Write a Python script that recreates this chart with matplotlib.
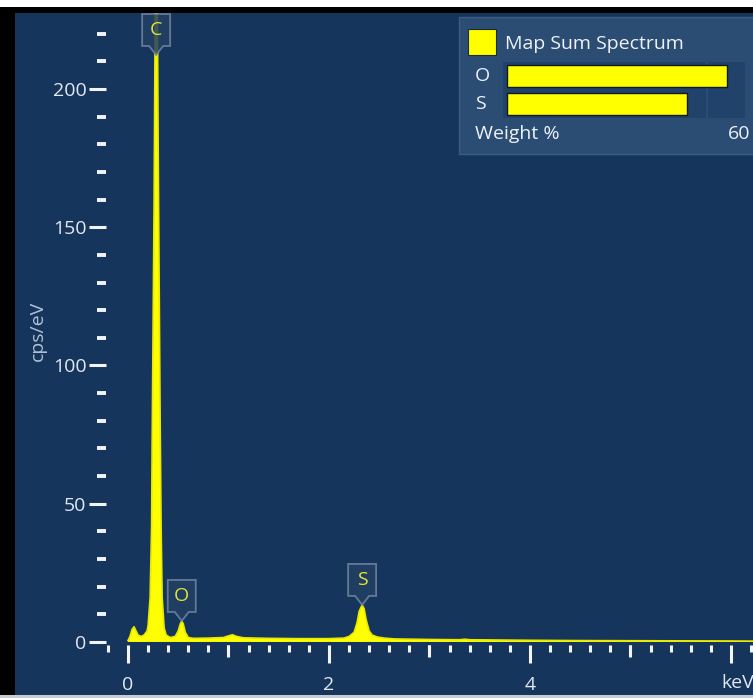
import matplotlib
matplotlib.use('Agg')
import matplotlib.pyplot as plt
from matplotlib.patches import Rectangle, Polygon
from matplotlib.ticker import MultipleLocator, FixedLocator

# spectrum (keV, cps/eV)
energy = [0.00, 0.02, 0.04, 0.06, 0.08, 0.10, 0.13, 0.16, 0.19, 0.20, 0.22,
          0.235, 0.24, 0.25, 0.26, 0.27, 0.28, 0.29, 0.30, 0.31, 0.32, 0.33,
          0.34, 0.36, 0.38, 0.42, 0.47, 0.50, 0.52, 0.535, 0.55, 0.57, 0.60,
          0.65, 0.80, 0.95, 1.00, 1.04, 1.08, 1.15, 1.40, 1.70, 2.00, 2.15,
          2.20, 2.25, 2.28, 2.30, 2.33, 2.35, 2.37, 2.40, 2.43, 2.48, 2.55,
          2.65, 3.00, 3.30, 3.35, 3.40, 4.00, 4.50, 5.00, 5.50, 6.00, 6.25]
counts = [0.5, 2.0, 4.5, 5.5, 4.0, 2.5, 2.0, 2.5, 4.0, 6.0, 16.0,
          42.0, 70.0, 115.0, 160.0, 225.0, 290.0, 245.0, 180.0, 130.0, 80.0, 40.0,
          16.0, 5.0, 2.5, 1.6, 2.0, 4.0, 6.5, 7.6, 6.5, 3.5, 1.6,
          1.3, 1.4, 1.6, 2.2, 2.6, 2.0, 1.5, 1.3, 1.2, 1.2, 1.4,
          2.0, 3.5, 7.0, 11.0, 13.4, 12.0, 8.0, 4.0, 2.5, 1.8, 1.4,
          1.1, 0.9, 0.8, 1.0, 0.8, 0.6, 0.5, 0.45, 0.4, 0.35, 0.3]

peak_names = ['C', 'O', 'S']
peak_kev = [0.28, 0.535, 2.33]

# legend bars
elements = ['O', 'S']
weight_pct = [55, 45]

W, H = 753, 698
BG = '#16355d'
FONT = 'Open Sans'

fig = plt.figure(figsize=(W / 100, H / 100), dpi=100)
fig.patch.set_facecolor('white')


def frac(x, y):
    # pixel (top-left origin) -> figure fraction
    return x / W, 1 - y / H


# black frame and blue panel
fig.patches.append(Rectangle(frac(0, 695), 1, 688 / H, transform=fig.transFigure,
                             facecolor='black', edgecolor='none', zorder=-10))
fig.patches.append(Rectangle(frac(15, 695), 1, 682 / H, transform=fig.transFigure,
                             facecolor=BG, edgecolor='none', zorder=-9))
fig.patches.append(Rectangle(frac(0, 698), 1, 3 / H, transform=fig.transFigure,
                             facecolor='#c8ccd0', edgecolor='none', zorder=-8))

x0, y0 = frac(106, 645)
ax = fig.add_axes([x0, y0, 1 - x0, (645 - 13) / H])
ax.set_facecolor('none')
ax.set_xlim(-0.219, 6.22)
ax.set_ylim(-1.1, 227.5)
for s in ax.spines.values():
    s.set_visible(False)

ax.fill_between(energy, counts, 0, color='#ffff00', lw=0, zorder=3)
ax.plot(energy, counts, color='#e8e800', lw=1.2, zorder=4)

tick_col = '#f2f4f7'
lab_col = '#e2e8ef'
ax.yaxis.set_major_locator(FixedLocator([0, 50, 100, 150, 200]))
ax.yaxis.set_minor_locator(MultipleLocator(10))
ax.xaxis.set_major_locator(FixedLocator([0, 2, 4, 6]))
ax.xaxis.set_minor_locator(MultipleLocator(0.2))
ax.set_xticklabels(['0', '2', '4', ''])
ax.tick_params(axis='y', which='major', length=12, width=2.2, color=tick_col,
               pad=2, labelsize=14, labelcolor=lab_col)
ax.tick_params(axis='y', which='minor', length=6.5, width=2.8, color=tick_col)
ax.tick_params(axis='x', which='major', length=13, width=2.2, color=tick_col,
               pad=9, labelsize=14, labelcolor=lab_col)
ax.tick_params(axis='x', which='minor', length=5, width=2.2, color=tick_col)
for lab in ax.get_xticklabels() + ax.get_yticklabels():
    lab.set_family(FONT)

# medium ticks at odd keV
sec = ax.secondary_xaxis('bottom')
sec.set_xticks([1, 3, 5])
sec.set_xticklabels([])
sec.tick_params(length=8.5, width=2.2, color=tick_col)
sec.spines['bottom'].set_visible(False)

fig.text(*frac(38, 331), 'cps/eV', rotation=90, ha='center', va='center',
         color='#b4c3d5', fontsize=14, family=FONT)
fig.text(*frac(721, 683), 'keV', ha='left', va='center',
         color=lab_col, fontsize=14, family=FONT)

# peak callouts
ax_top = H - 13
for name, e in zip(peak_names, peak_kev):
    top = max(c for x, c in zip(energy, counts) if abs(x - e) < 0.05)
    tx, ty = ax.transData.transform((e, top))
    bw, bh, depth, hw = 28, 32, 9, 7
    box_bot = ty + depth
    box_top = box_bot + bh
    if box_top > ax_top:
        box_top = ax_top - 1
        box_bot = box_top - bh
    pts = [(tx - bw / 2, box_bot), (tx - hw, box_bot), (tx, box_bot - depth),
           (tx + hw, box_bot), (tx + bw / 2, box_bot), (tx + bw / 2, box_top),
           (tx - bw / 2, box_top)]
    fig.patches.append(Polygon(pts, closed=True, transform=None,
                               facecolor='#223f63', edgecolor='#7185a0',
                               lw=1.3, alpha=0.85, zorder=5))
    fig.text(tx / W, (box_bot + box_top) / 2 / H, name, ha='center', va='center',
             color='#e2e43a', fontsize=14, family=FONT, zorder=6)

# legend panel
fig.patches.append(Rectangle(frac(459, 154), 1, 137 / H, transform=fig.transFigure,
                             facecolor='#2b4d74', edgecolor='#3b5d84', lw=1, zorder=6))
fig.patches.append(Rectangle(frac(468, 55), 28 / W, 26 / H, transform=fig.transFigure,
                             facecolor='#ffff00', edgecolor='#1a2a3a', lw=0.8, zorder=7))
fig.text(*frac(505, 44), 'Map Sum Spectrum', ha='left', va='center',
         color='#eef2f6', fontsize=14, family=FONT, zorder=7)

lx, ly = frac(503, 118)
lax = fig.add_axes([lx, ly, 242 / W, 56 / H], zorder=8)
lax.set_facecolor('#21426a')
lax.set_xlim(-1, 59.5)
lax.set_ylim(-0.5, 1.5)
rows = list(range(len(elements)))[::-1]
lax.barh(rows, weight_pct, height=0.76, color='#ffff00', edgecolor='#101820', lw=1.0)
lax.axvline(50, color='#2d5078', lw=1.2, zorder=0)
lax.set_xticks([])
lax.set_yticks([])
for s in lax.spines.values():
    s.set_visible(False)
for r, el in zip(rows, elements):
    lax.text(-28 / 242, r, el, transform=lax.get_yaxis_transform(), ha='left',
             va='center', color='#eef2f6', fontsize=14, family=FONT)
fig.text(*frac(475, 134), 'Weight %', ha='left', va='center',
         color='#eef2f6', fontsize=14, family=FONT, zorder=9)
fig.text(*frac(750, 134), '60', ha='right', va='center',
         color='#eef2f6', fontsize=14, family=FONT, zorder=9)

fig.savefig('out.png', dpi=100, facecolor=fig.get_facecolor())
